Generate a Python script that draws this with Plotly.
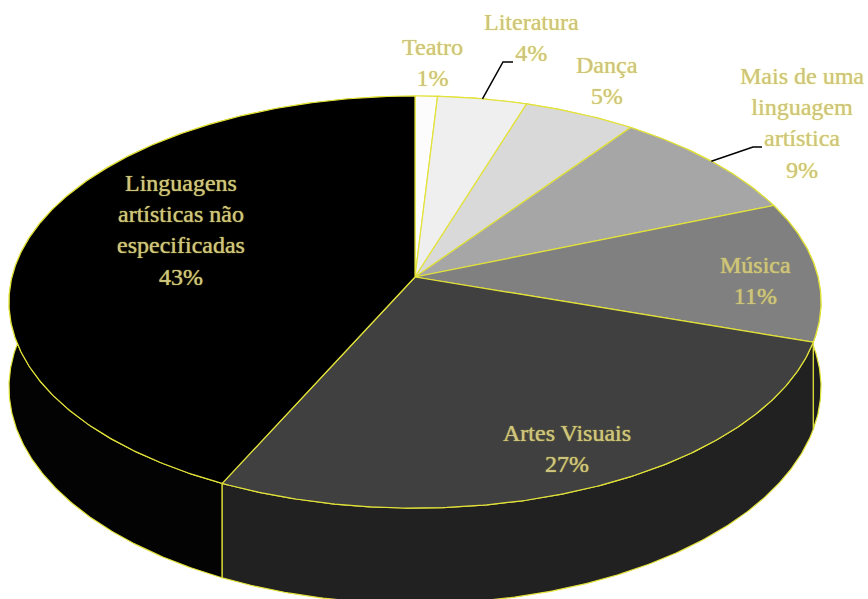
import numpy as np
import plotly.graph_objects as go

# ---- data ----
categories = ["Teatro", "Literatura", "Dança", "Mais de uma<br>linguagem<br>artística",
              "Música", "Artes Visuais", "Linguagens<br>artísticas não<br>especificadas"]
values = [1, 4, 5, 9, 11, 27, 43]
top_colors = ["#fcfcfc", "#efefef", "#d9d9d9", "#a6a6a6", "#808080", "#404040", "#000000"]
side_colors = ["#e0e0e0", "#d0d0d0", "#b8b8b8", "#8a8a8a", "#1e1e1e", "#212121", "#030303"]

# ---- layout / projection params ----
W, H = 868, 599
CX, CY = 415, 277      # projected pie centre
A, B = 403, 203        # horizontal / vertical radius factors
K = 0.1216             # perspective factor
D = 84                 # thickness
EDGE = "#e2e23a"
TXT = "#cdc383"
FONT = "Liberation Serif"

label_pos = [(432, 62), (531, 37), (607, 80), (802, 123), (755, 280), (567, 448), (181, 230)]
leader = {1: (503, 62, 513), 3: (753, 147, 762)}


def proj(phi_deg, depth=0.0):
    phi = np.radians(phi_deg)
    u = np.sin(phi)
    v = -np.cos(phi)
    den = 1 - K * v
    x = CX + A * u / den
    y = CY + B * v / den + D * depth / den
    return x, y


total = sum(values)
cum = np.concatenate([[0], np.cumsum(values)]) / total * 360.0

fig = go.Figure()

# side panels (back to front)
order = sorted(range(len(values)), key=lambda i: -np.cos(np.radians((cum[i] + cum[i + 1]) / 2)))
for i in order:
    a1, a2 = cum[i], cum[i + 1]
    ph = np.linspace(a1, a2, max(int((a2 - a1) * 2), 4))
    xt, yt = proj(ph, 0)
    xb, yb = proj(ph[::-1], 1)
    xs = np.concatenate([xt, xb, xt[:1]])
    ys = np.concatenate([yt, yb, yt[:1]])
    fig.add_trace(go.Scatter(x=xs, y=ys, mode="lines", fill="toself",
                             fillcolor=side_colors[i], line=dict(color=EDGE, width=1.2),
                             hoverinfo="skip", showlegend=False))

# top slices
for i in range(len(values)):
    a1, a2 = cum[i], cum[i + 1]
    ph = np.linspace(a1, a2, max(int((a2 - a1) * 2), 4))
    xt, yt = proj(ph, 0)
    xs = np.concatenate([[CX], xt, [CX]])
    ys = np.concatenate([[CY], yt, [CY]])
    fig.add_trace(go.Scatter(x=xs, y=ys, mode="lines", fill="toself",
                             fillcolor=top_colors[i], line=dict(color=EDGE, width=1.2),
                             hoverinfo="skip", showlegend=False))

# leader lines
for i, (ex, ey, hx) in leader.items():
    sx, sy = proj((cum[i] + cum[i + 1]) / 2, 0)
    fig.add_trace(go.Scatter(x=[sx, ex, hx], y=[sy, ey, ey], mode="lines",
                             line=dict(color="black", width=1.5),
                             hoverinfo="skip", showlegend=False))

# labels
for i, (lx, ly) in enumerate(label_pos):
    fig.add_annotation(x=lx, y=ly, xref="x", yref="y", showarrow=False,
                       text=f"{categories[i]}<br>{values[i]}%",
                       font=dict(family=FONT, size=24, color=TXT,
                                 shadow="0px 0px 1px #e6e23c"),
                       align="center")

fig.update_xaxes(range=[0, W], visible=False, fixedrange=True)
fig.update_yaxes(range=[H, 0], visible=False, fixedrange=True)
fig.update_layout(width=W, height=H, margin=dict(l=0, r=0, t=0, b=0),
                  plot_bgcolor="white", paper_bgcolor="white")

fig.write_html("out.html")
